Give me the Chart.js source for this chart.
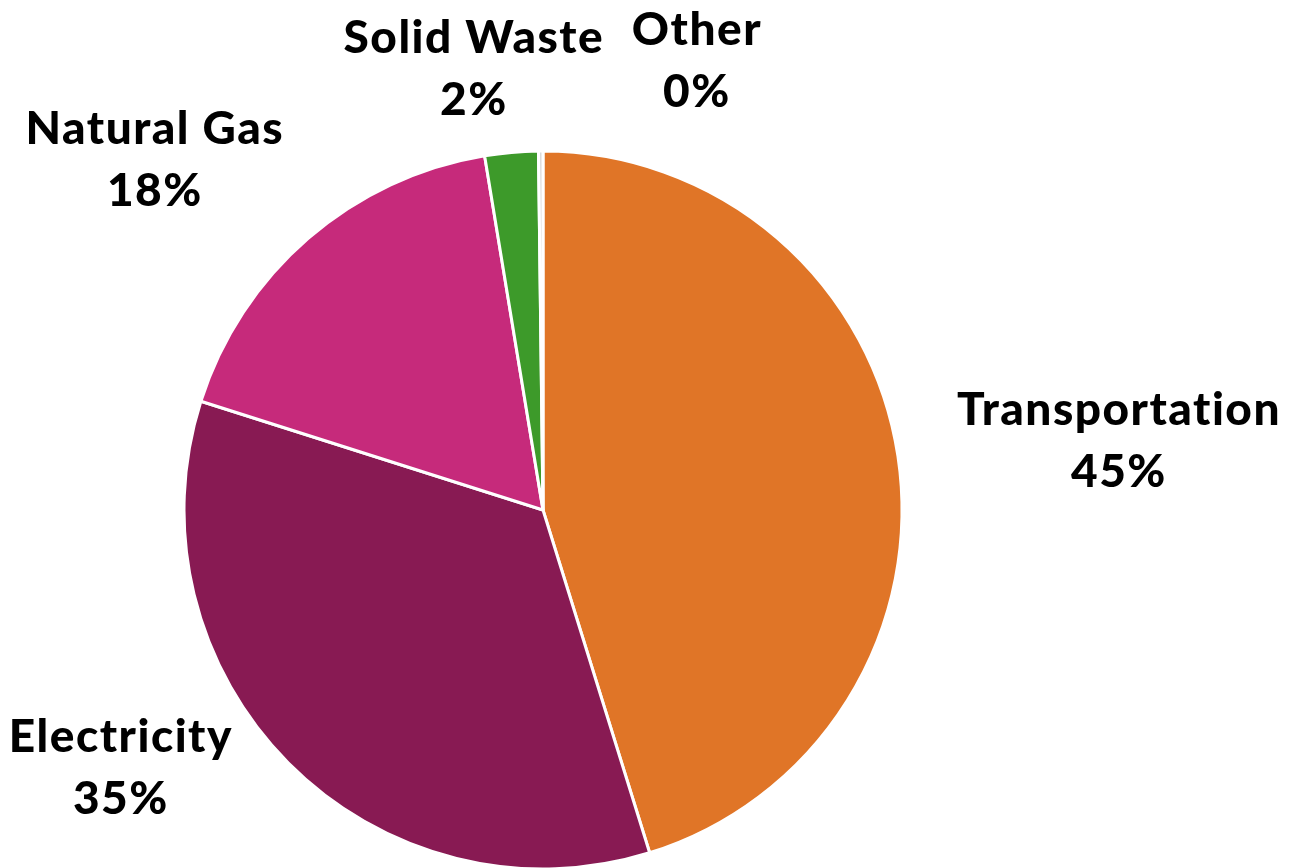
<!DOCTYPE html>
<html>
<head>
<meta charset="utf-8">
<script src="https://cdn.jsdelivr.net/npm/chart.js@4/dist/chart.umd.min.js"></script>
<style>
  html, body { margin: 0; padding: 0; background: #fff; }
  canvas { display: block; }
</style>
</head>
<body>
<canvas id="myChart" width="1289" height="868"></canvas>
<script>
var categories = ['Transportation', 'Electricity', 'Natural Gas', 'Solid Waste', 'Other']
var shares = [45.2, 34.7, 17.5, 2.4, 0.2]
var sliceColors = ['#E07527', '#881A53', '#C62A7B', '#3D9A2A', '#D9D9D9']

// where each label sits, in pie radii from the centre (x, y)
var labelSpots = [[1.606, -0.193], [-1.182, 0.721], [-1.087, -0.978], [-0.196, -1.232], [0.427, -1.254]]

var labelPlugin = {
    id: 'sliceLabels',
    afterDraw: function (chart) {
        var ctx = chart.ctx
        var arc = chart.getDatasetMeta(0).data[0]
        var cx = arc.x, cy = arc.y, r = 358
        var total = shares.reduce(function (a, b) { return a + b }, 0)
        ctx.save()
        ctx.fillStyle = '#000'
        ctx.font = '900 46px Lato'
        ctx.letterSpacing = '1.5px'
        ctx.textAlign = 'center'
        ctx.textBaseline = 'middle'
        categories.forEach(function (name, i) {
            var x = cx + labelSpots[i][0] * r + 1
            var y = cy + labelSpots[i][1] * r
            ctx.fillText(name, x, y - 31)
            ctx.fillText(Math.round(shares[i] / total * 100) + '%', x, y + 31)
        })
        ctx.restore()
    }
}

var ctx = document.getElementById('myChart').getContext('2d')
var myChart = new Chart(ctx, {
    type: 'pie',
    data: {
        labels: categories,
        datasets: [{
            data: shares,
            backgroundColor: sliceColors,
            borderColor: '#ffffff',
            borderWidth: 3,
            radius: 359
        }]
    },
    options: {
        responsive: false,
        animation: false,
        layout: {
            padding: { left: 185, right: 388, top: 152, bottom: 0 }
        },
        plugins: {
            legend: { display: false },
            tooltip: { enabled: false }
        }
    },
    plugins: [labelPlugin]
})
</script>
</body>
</html>
